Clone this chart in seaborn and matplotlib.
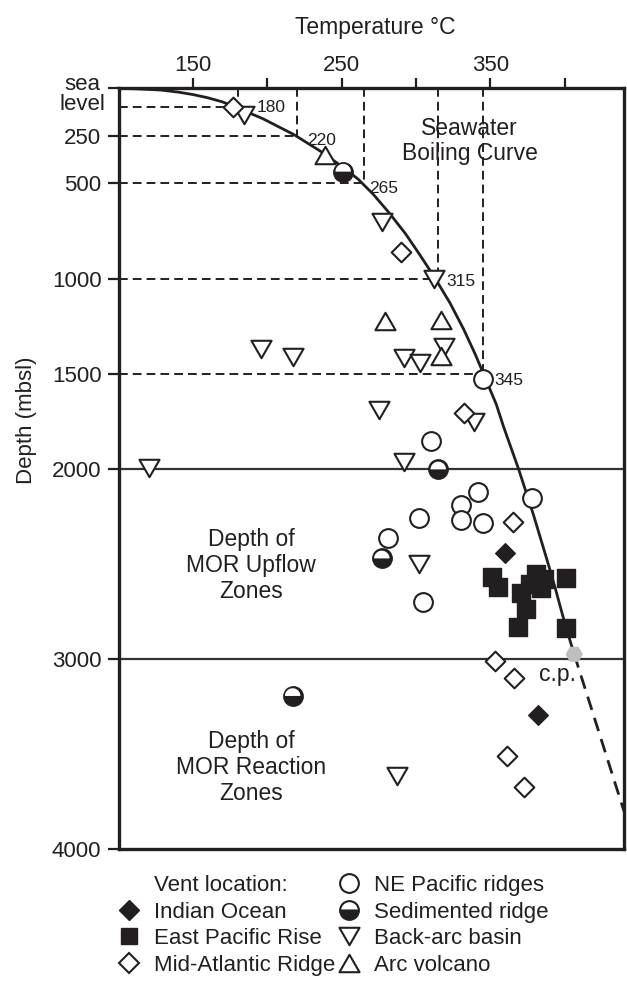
import numpy as np
import matplotlib
matplotlib.use("Agg")
import matplotlib.pyplot as plt
import matplotlib.transforms as mtransforms
from matplotlib.lines import Line2D
from matplotlib.path import Path
import seaborn as sns

sns.set_theme(style="ticks")
plt.rcParams["font.family"] = ["Liberation Sans", "DejaVu Sans"]
INK = "#231f20"

# ---- seawater boiling curve (temperature degC, depth m below sea level) ----
boil_T = [100, 112, 128, 140, 150, 160, 170, 182, 197, 218, 237, 250, 261,
          271, 282, 293, 303, 313, 323, 332, 340, 347, 354, 359, 364, 369,
          374, 379, 384, 389, 394, 398, 402, 406.5]
boil_d = [0, 3, 9, 20, 33, 50, 72, 110, 160, 244, 337, 410, 477,
          555, 655, 765, 880, 1000, 1130, 1265, 1400, 1530, 1660, 1780, 1890,
          2000, 2120, 2240, 2370, 2500, 2635, 2750, 2860, 2975]
# metastable extension beyond the critical point
ext_T = [406.5, 440]
ext_d = [2975, 3800]
# critical point
cp_T = [406.5]
cp_d = [2975]

# reference readings along the boiling curve
guide_T = [180, 220, 265, 315, 345]
guide_d = [100, 250, 500, 1000, 1500]
guide_labels = ["180", "220", "265", "315", "345"]

# zone boundaries
zone_depths = [2000, 3000]

# ---- vent fluids by location ----
indian_T = [360, 382]
indian_d = [2444, 3294]

epr_T = [351, 355, 381, 386, 377, 371, 374, 384, 401, 369, 401]
epr_d = [2570, 2623, 2555, 2579, 2607, 2651, 2739, 2628, 2576, 2833, 2838]

mar_T = [177, 290, 332, 365, 353, 366, 361, 373]
mar_d = [100, 859, 1708, 2278, 3010, 3101, 3510, 3671]

nep_T = [345, 310, 342, 378, 330, 302, 330, 345, 281, 305]
nep_d = [1530, 1852, 2120, 2155, 2190, 2257, 2269, 2283, 2362, 2702]

sed_T = [251, 315, 277, 217]
sed_d = [438, 2003, 2471, 3194]

backarc_T = [184, 277, 312, 319, 196, 217, 292, 303, 275, 339, 292, 120, 302, 287]
backarc_d = [140, 701, 1000, 1358, 1372, 1411, 1416, 1446, 1691, 1752, 1962,
             1994, 2499, 3613]

arc_T = [239, 279, 317, 317]
arc_d = [349, 1223, 1218, 1407]

# axis ticks
x_ticks = [150, 200, 250, 300, 350, 400]
x_ticklabels = ["150", "", "250", "", "350", ""]
y_ticks = [0, 250, 500, 1000, 1500, 2000, 3000, 4000]
y_ticklabels = ["sea\nlevel", "250", "500", "1000", "1500", "2000", "3000", "4000"]

# ---- marker shapes ----
MOVE, LINE, CLOSE = Path.MOVETO, Path.LINETO, Path.CLOSEPOLY
tri_down = Path([(-1, 0.866), (1, 0.866), (0, -0.866), (-1, 0.866)],
                [MOVE, LINE, LINE, CLOSE])
tri_up = Path([(-1, -0.866), (1, -0.866), (0, 0.866), (-1, -0.866)],
              [MOVE, LINE, LINE, CLOSE])
ang = np.linspace(0, np.pi, 40)
half_top = Path(np.column_stack([np.cos(ang), np.sin(ang)]).tolist() + [[1, 0]],
                [MOVE] + [LINE] * 39 + [CLOSE])

MS_CIRC = 13.5
MS_DIAM = 10.0
MS_SQ = 13.0
MS_TRI = 14.5
EW = 1.5

fig = plt.figure(figsize=(6.27, 9.86), dpi=100)
ax = fig.add_axes([0.18947, 0.13864, 0.80574, 0.77181])

# zone boundaries
for d in zone_depths:
    ax.axhline(d, color="#333333", lw=1.6, zorder=1.5)

# dashed readings
ax.hlines(guide_d, xmin=100, xmax=guide_T, colors=INK, lw=1.4,
          linestyles=[(0, (4.5, 2.6))], zorder=1.6)
ax.vlines(guide_T, ymin=0, ymax=guide_d, colors=INK, lw=1.4,
          linestyles=[(0, (4.5, 2.6))], zorder=1.6)

# boiling curve
sns.lineplot(x=boil_T, y=boil_d, sort=False, estimator=None, color=INK,
             lw=2.0, ax=ax, zorder=2)
sns.lineplot(x=ext_T, y=ext_d, sort=False, estimator=None, color=INK,
             lw=2.0, linestyle=(0, (5, 3)), ax=ax, zorder=2)

# vent data
common = dict(ax=ax, zorder=3, legend=False)
sns.scatterplot(x=nep_T, y=nep_d, marker="o", s=MS_CIRC**2, color="white",
                edgecolor=INK, linewidth=EW, **common)
sns.scatterplot(x=sed_T, y=sed_d, marker="o", s=MS_CIRC**2, color=INK,
                edgecolor=INK, linewidth=EW, **common)
sns.scatterplot(x=sed_T, y=sed_d, marker=half_top, s=(MS_CIRC - 2 * EW + 0.6)**2,
                color="white", edgecolor="none", linewidth=0, ax=ax, zorder=3.1,
                legend=False)
sns.scatterplot(x=backarc_T, y=backarc_d, marker=tri_down, s=MS_TRI**2,
                color="white", edgecolor=INK, linewidth=EW, **common)
sns.scatterplot(x=arc_T, y=arc_d, marker=tri_up, s=MS_TRI**2, color="white",
                edgecolor=INK, linewidth=EW, **common)
sns.scatterplot(x=mar_T, y=mar_d, marker="D", s=MS_DIAM**2, color="white",
                edgecolor=INK, linewidth=EW, **common)
sns.scatterplot(x=epr_T, y=epr_d, marker="s", s=MS_SQ**2, color=INK,
                edgecolor=INK, linewidth=1.0, **common)
sns.scatterplot(x=indian_T, y=indian_d, marker="D", s=MS_DIAM**2, color=INK,
                edgecolor=INK, linewidth=1.0, **common)
sns.scatterplot(x=cp_T, y=cp_d, marker="H", s=12.5**2, color="#bfbfc2",
                edgecolor="none", linewidth=0, **common)

# annotations
label_offsets = [(14, 0), (7, -3), (3.5, -4), (6, -2), (8.5, -5)]
for t, d, lab, off in zip(guide_T, guide_d, guide_labels, label_offsets):
    ax.annotate(lab, (t, d), xytext=off, textcoords="offset points",
                ha="left", va="center", fontsize=12.5, color=INK)

ax.text(336, 279, "Seawater\nBoiling Curve", ha="center", va="center",
        fontsize=16.5, color=INK, linespacing=1.1)
ax.text(395, 3082, "c.p.", ha="center", va="center", fontsize=16.5, color=INK)
ax.text(189, 2507, "Depth of\nMOR Upflow\nZones", ha="center", va="center",
        fontsize=16.5, color=INK, linespacing=1.17)
ax.text(189, 3568, "Depth of\nMOR Reaction\nZones", ha="center", va="center",
        fontsize=16.5, color=INK, linespacing=1.17)

# axes
ax.set_xlim(100, 440)
ax.set_ylim(4000, 0)
ax.xaxis.tick_top()
ax.xaxis.set_label_position("top")
ax.set_xticks(x_ticks)
ax.set_xticklabels(x_ticklabels)
ax.set_yticks(y_ticks)
ax.set_yticklabels(y_ticklabels)
ax.tick_params(axis="x", top=True, bottom=False, labeltop=True,
               labelbottom=False, length=7, width=1.6, pad=2, labelsize=16,
               color=INK, labelcolor=INK)
ax.tick_params(axis="y", left=True, length=8, width=1.6, pad=4.5,
               labelsize=16, color=INK, labelcolor=INK)
for sp in ax.spines.values():
    sp.set_visible(True)
    sp.set_linewidth(2.4)
    sp.set_color(INK)

ax.set_xlabel("Temperature °C", fontsize=16.5, color=INK)
ax.xaxis.set_label_coords(0.507, 1.072)
ax.set_ylabel("Depth (mbsl)", fontsize=16, color=INK)
ax.yaxis.set_label_coords(-0.162, 0.564)

sea = ax.get_yticklabels()[0]
sea.set_multialignment("center")
sea.set_linespacing(0.95)
sea.set_transform(sea.get_transform() +
                  mtransforms.ScaledTranslation(0.04, -0.04, fig.dpi_scale_trans))

# legend
def mk(marker, **kw):
    base = dict(ls="", marker=marker, mec=INK, mew=EW, mfc="white")
    base.update(kw)
    return Line2D([], [], **base)

handles = [
    Line2D([], [], ls="", marker=None),
    mk("D", ms=MS_DIAM, mfc=INK, mew=1.0),
    mk("s", ms=MS_SQ - 1, mfc=INK, mew=1.0),
    mk("D", ms=MS_DIAM),
    mk("o", ms=MS_CIRC),
    mk("o", ms=MS_CIRC, fillstyle="bottom", mfc=INK, mfcalt="white"),
    mk(tri_down, ms=MS_TRI),
    mk(tri_up, ms=MS_TRI),
]
labels = ["Vent location:", "Indian Ocean", "East Pacific Rise",
          "Mid-Atlantic Ridge", "NE Pacific ridges", "Sedimented ridge",
          "Back-arc basin", "Arc volcano"]
leg = fig.legend(handles, labels, ncol=2, loc="upper left",
                 bbox_to_anchor=(118 / 627, 1 - 875 / 986), frameon=False,
                 fontsize=16, handlelength=1.0, handletextpad=0.6,
                 columnspacing=0.15, labelspacing=0.25, borderaxespad=0,
                 borderpad=0)
for txt in leg.get_texts():
    txt.set_color(INK)

fig.savefig("out.png", dpi=100)
